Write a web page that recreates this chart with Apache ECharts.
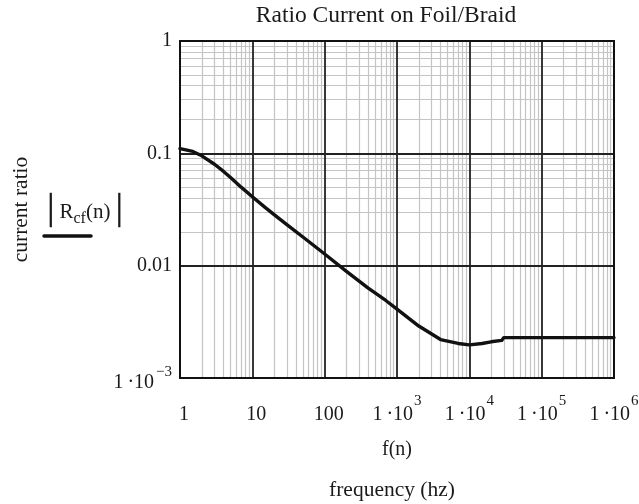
<!DOCTYPE html>
<html>
<head>
<meta charset="utf-8">
<script src="https://cdn.jsdelivr.net/npm/echarts@6/dist/echarts.min.js"></script>
<style>
  html, body { margin: 0; padding: 0; background: #fff; }
  #chart { width: 639px; height: 504px; }
</style>
</head>
<body>
<div id="chart"></div>
<script>
// Frequency samples (Hz) and magnitude of the foil/braid current ratio
var freqHz = [1, 1.5, 2, 3, 4, 5, 7, 10, 15, 20, 30, 50, 100, 200, 400, 700, 1000, 2000, 4000, 7000, 10000, 15000, 20000, 28000, 30000, 100000, 1000000];
var ratioRcf = [0.11, 0.104, 0.095, 0.080, 0.069, 0.061, 0.050, 0.041, 0.033, 0.0285, 0.0232, 0.018, 0.0127, 0.0089, 0.0063, 0.0049, 0.0041, 0.0029, 0.0022, 0.00203, 0.00197, 0.00203, 0.0021, 0.00216, 0.00229, 0.00229, 0.00229];

// Axis ranges and tick positions
var xDecades = [1, 10, 100, 1000, 10000, 100000, 1000000];
var yDecades = [0.001, 0.01, 0.1, 1];
var minorMultipliers = [2, 3, 4, 5, 6, 7, 8, 9];

var FONT = '"Liberation Serif", "DejaVu Serif", serif';
var INK = '#1a1a1a';

// Minor log gridlines (2..9 within each decade)
var minorLines = [];
xDecades.slice(0, -1).forEach(function (d) {
  minorMultipliers.forEach(function (m) { minorLines.push({ xAxis: d * m }); });
});
yDecades.slice(0, -1).forEach(function (d) {
  minorMultipliers.forEach(function (m) { minorLines.push({ yAxis: +(d * m).toPrecision(3) }); });
});
// Decade gridlines inside the frame
var majorLines = [];
xDecades.slice(1, -1).forEach(function (d) { majorLines.push({ xAxis: d }); });
yDecades.slice(1, -1).forEach(function (d) { majorLines.push({ yAxis: d }); });

function powLabel(v) {
  var e = Math.round(Math.log10(v));
  if (e >= 0 && e <= 2) return '{p|' + Math.round(v) + '}';
  if (e === -1) return '0.1';
  if (e === -2) return '0.01';
  var sup = e < 0 ? '\u2212' + (-e) : String(e);
  return '{b|1\u2009\u00B710}{s|' + sup + '}';
}

var xRich = {
  p: { fontFamily: FONT, fontSize: 20, color: INK, padding: [10.5, 0, 10.5, 8] },
  b: { fontFamily: FONT, fontSize: 20, color: INK },
  s: { fontFamily: FONT, fontSize: 15, color: INK, padding: [0, 0, 26, 1] }
};
var yRich = {
  b: { fontFamily: FONT, fontSize: 20, color: INK, padding: [10, 0, 0, 0] },
  s: { fontFamily: FONT, fontSize: 15, color: INK, padding: [0, 0, 12, 2] }
};

var chart = echarts.init(document.getElementById('chart'), null, { renderer: 'canvas' });
chart.setOption({
  animation: false,
  backgroundColor: '#fff',
  grid: {
    left: 180, right: 25, top: 41, bottom: 126, z: 6,
    outerBoundsMode: 'none', containLabel: false,
    show: true, borderColor: '#111', borderWidth: 2, backgroundColor: 'transparent'
  },
  xAxis: {
    type: 'log', logBase: 10, min: 1, max: 1000000,
    name: 'f(n)', nameLocation: 'middle', nameGap: 62,
    nameTextStyle: { fontFamily: FONT, fontSize: 20, color: INK },
    axisLine: { show: true, lineStyle: { color: '#111', width: 2 } },
    axisTick: { show: false },
    axisLabel: { margin: 16, formatter: powLabel, rich: xRich, fontFamily: FONT, fontSize: 20, color: INK, showMaxLabel: true, showMinLabel: true },
    splitLine: { show: false }
  },
  yAxis: {
    type: 'log', logBase: 10, min: 0.001, max: 1,
    name: 'current ratio', nameLocation: 'middle', nameGap: 148, nameRotate: 90,
    nameTextStyle: { fontFamily: FONT, fontSize: 21.5, color: INK },
    axisLine: { show: true, lineStyle: { color: '#111', width: 2 } },
    axisTick: { show: false },
    axisLabel: { margin: 8, formatter: powLabel, rich: yRich, fontFamily: FONT, fontSize: 20, color: INK, showMaxLabel: true, showMinLabel: true },
    splitLine: { show: false }
  },
  graphic: [
    {
      type: 'text', x: 386, y: 16,
      style: { text: 'Ratio Current on Foil/Braid', fontFamily: FONT, fontSize: 23.5, fill: INK, align: 'center', verticalAlign: 'middle' }
    },
    {
      type: 'text', x: 392, y: 490,
      style: { text: 'frequency (hz)', fontFamily: FONT, fontSize: 21.5, fill: INK, align: 'center', verticalAlign: 'middle' }
    },
    {
      type: 'text', left: 42, top: 198,
      style: {
        text: '{bar|\u2502}{r|R}{sub|cf}{r|(n)}{bar|\u2502}',
        fontFamily: FONT, fontSize: 21, fill: INK,
        rich: {
          bar: { fontFamily: '"DejaVu Sans", sans-serif', fontSize: 29, fill: INK, color: INK, lineHeight: 34 },
          r: { fontFamily: FONT, fontSize: 21, fill: INK, color: INK, lineHeight: 34 },
          sub: { fontFamily: FONT, fontSize: 16, fill: INK, color: INK, lineHeight: 34, padding: [12, 0, 0, 0] }
        }
      }
    },
    {
      type: 'line', shape: { x1: 44, y1: 236, x2: 91, y2: 236 },
      style: { stroke: '#111', lineWidth: 3.5, lineCap: 'round' }
    }
  ],
  series: [
    {
      name: 'grid-minor', type: 'line', data: [], z: 1, silent: true,
      markLine: {
        silent: true, symbol: 'none', animation: false,
        label: { show: false },
        lineStyle: { color: '#c4c4c4', width: 1.2, type: 'solid' },
        emphasis: { disabled: true },
        data: minorLines
      }
    },
    {
      name: 'grid-major', type: 'line', data: [], z: 3, silent: true,
      markLine: {
        silent: true, symbol: 'none', animation: false,
        label: { show: false },
        lineStyle: { color: '#222', width: 1.8, type: 'solid' },
        emphasis: { disabled: true },
        data: majorLines
      }
    },
    {
      name: '|Rcf(n)|', type: 'line', z: 10,
      data: freqHz.map(function (f, i) { return [f, ratioRcf[i]]; }),
      showSymbol: false, smooth: false,
      lineStyle: { color: '#111', width: 3.4, cap: 'round', join: 'round' }
    }
  ]
});
</script>
</body>
</html>
